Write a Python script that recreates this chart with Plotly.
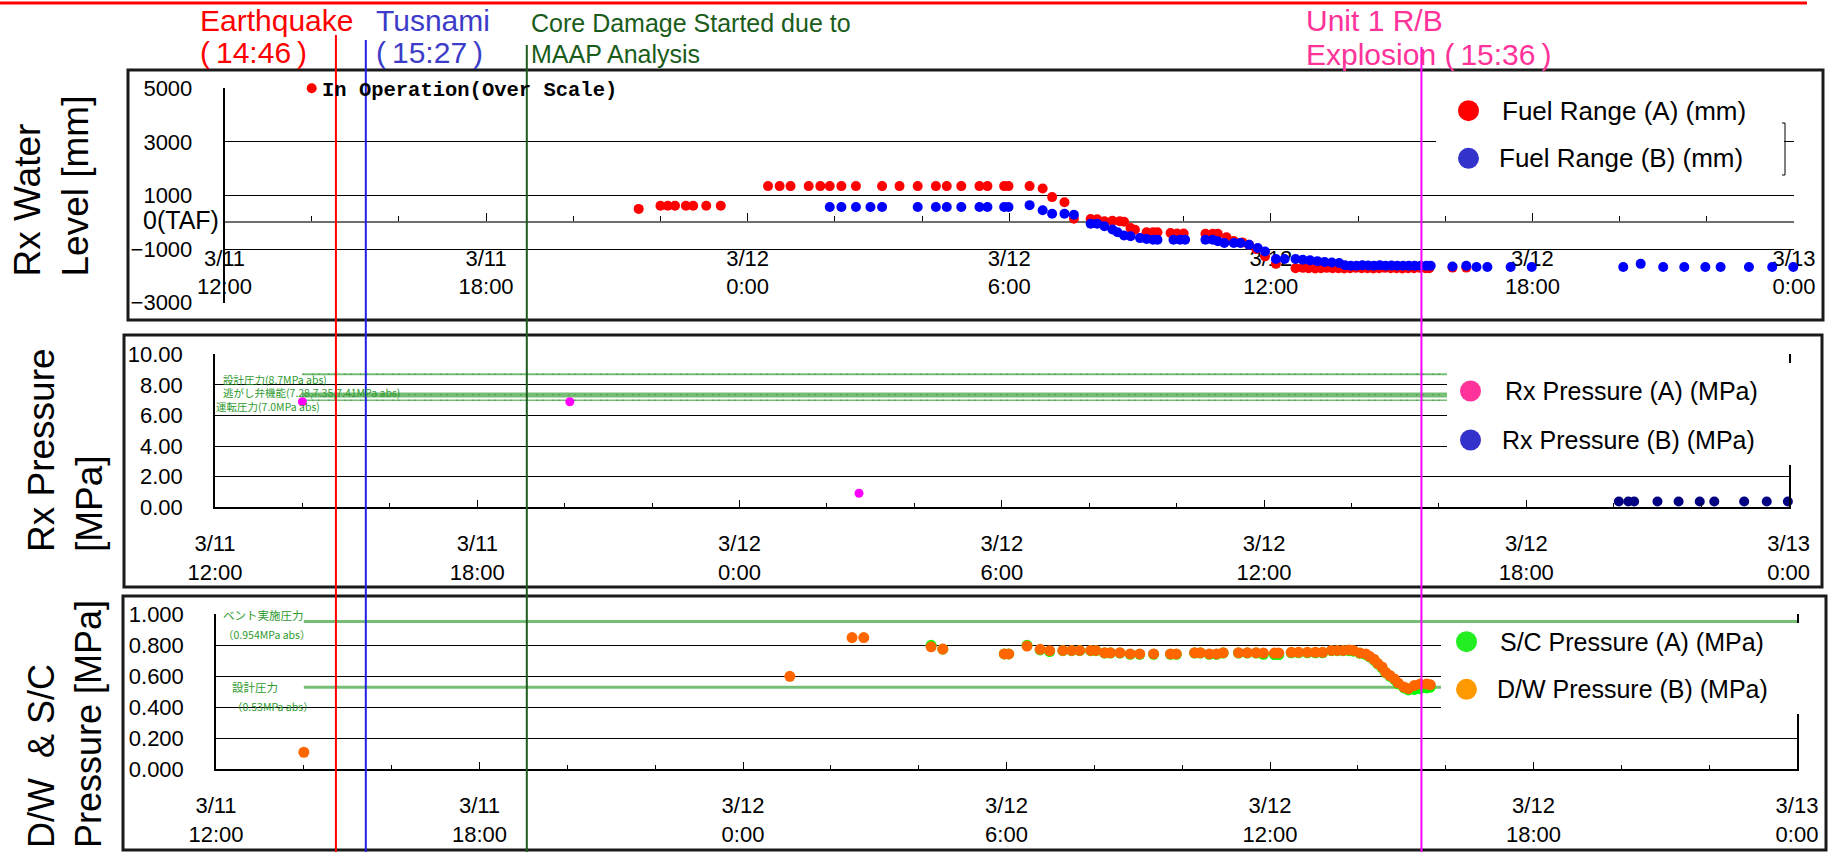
import plotly.graph_objects as go

# Canvas size in pixels; layout positions below are given in pixels and converted.
W, H = 1833, 852


def px(x):
    return x / W


def py(y):
    return 1 - y / H


def stamp(ts):
    """'12 06:28' -> '2011-03-12 06:28'"""
    day, hm = ts.split()
    return f"2011-03-{day} {hm}"


# ---------------------------------------------------------------- time axis
T_START = "2011-03-11 12:00"
T_END = "2011-03-13 00:00"
TICK_TIMES = ["2011-03-11 12:00", "2011-03-11 18:00", "2011-03-12 00:00",
              "2011-03-12 06:00", "2011-03-12 12:00", "2011-03-12 18:00",
              "2011-03-13 00:00"]
TICK_TEXT = ["3/11<br>12:00", "3/11<br>18:00", "3/12<br>0:00", "3/12<br>6:00",
             "3/12<br>12:00", "3/12<br>18:00", "3/13<br>0:00"]

# ---------------------------------------------------------------- events
EVENT_TIME = ["2011-03-11 14:46", "2011-03-11 15:27", "2011-03-11 19:08", "2011-03-12 15:36"]
EVENT_COLOR = ["#FF0000", "#1F1FE6", "#1E5B1E", "#FF00FF"]
EVENT_TOP_PX = [35, 40, 45, 47]

# ---------------------------------------------------------------- reactor water level (fuel range)
FUEL_A_TIME = ["11 14:00", "11 21:30", "11 22:00", "11 22:10", "11 22:20", "11 22:35", "11 22:45",
               "11 23:03", "11 23:23",
               "12 00:28", "12 00:44", "12 00:59", "12 01:24", "12 01:40", "12 01:53", "12 02:09",
               "12 02:29", "12 03:05", "12 03:29", "12 03:54", "12 04:19", "12 04:34", "12 04:54",
               "12 05:19", "12 05:30", "12 05:53", "12 05:59", "12 06:28",
               "12 06:46", "12 06:59", "12 07:16", "12 07:29", "12 07:52", "12 08:01", "12 08:11",
               "12 08:22", "12 08:32", "12 08:38", "12 08:47", "12 08:53", "12 09:09", "12 09:18",
               "12 09:24", "12 09:42", "12 09:51", "12 10:00", "12 10:30", "12 10:40", "12 10:47",
               "12 10:59", "12 11:09", "12 11:21", "12 11:30", "12 11:40", "12 11:52", "12 12:07",
               "12 12:34", "12 12:44", "12 12:52", "12 13:01", "12 13:09", "12 13:17", "12 13:25",
               "12 13:33", "12 13:41", "12 13:49", "12 13:57", "12 14:05", "12 14:13", "12 14:21",
               "12 14:29", "12 14:37", "12 14:45", "12 14:53", "12 15:01", "12 15:09", "12 15:17",
               "12 15:25", "12 15:33", "12 15:38", "12 16:10", "12 16:29"]
FUEL_A_MM = [5000, 500, 620, 620, 620, 620, 620, 620, 620,
             1350, 1350, 1350, 1350, 1350, 1350, 1350, 1350, 1350, 1350, 1350, 1350, 1350, 1350,
             1350, 1350, 1350, 1350, 1350,
             1260, 940, 750, 130, 120, 110, 40, 60, 40, 20, -210, -280, -370, -370,
             -370, -400, -420, -420, -430, -430, -430, -560, -700, -750, -840, -1000, -1270, -1550,
             -1710, -1700, -1710, -1720, -1710, -1700, -1710, -1710, -1720, -1710, -1700, -1710,
             -1710, -1720, -1710, -1700, -1710, -1710, -1720, -1710, -1710, -1700, -1710, -1710,
             -1690, -1690]

FUEL_B_TIME = ["12 01:53", "12 02:09", "12 02:29", "12 02:49", "12 03:05", "12 03:54", "12 04:19",
               "12 04:34", "12 04:54", "12 05:19", "12 05:30", "12 05:53", "12 05:59",
               "12 06:28", "12 06:46", "12 06:59", "12 07:16", "12 07:29", "12 07:52", "12 08:01",
               "12 08:11", "12 08:22", "12 08:29", "12 08:38", "12 08:47", "12 09:00", "12 09:09",
               "12 09:18", "12 09:24", "12 09:46", "12 09:55", "12 10:02", "12 10:30", "12 10:40",
               "12 10:47", "12 10:56", "12 11:09", "12 11:18", "12 11:30", "12 11:42", "12 11:52",
               "12 12:07", "12 12:19", "12 12:34", "12 12:44", "12 12:54", "12 13:04", "12 13:14",
               "12 13:24", "12 13:34", "12 13:42", "12 13:50", "12 13:58", "12 14:06", "12 14:14",
               "12 14:22", "12 14:30", "12 14:38", "12 14:46", "12 14:54", "12 15:02", "12 15:10",
               "12 15:18", "12 15:26", "12 15:34", "12 15:40", "12 16:10", "12 16:29", "12 16:43",
               "12 16:58", "12 17:30", "12 17:59", "12 20:05", "12 20:29", "12 21:00", "12 21:29",
               "12 21:58", "12 22:19", "12 22:58", "12 23:30", "12 23:59"]
FUEL_B_MM = [570, 570, 570, 570, 570, 570, 570, 570, 570, 570, 570, 570, 570,
             640, 450, 320, 320, 280, -50, -50, -150, -270, -370, -490, -520, -590, -620,
             -650, -650, -650, -650, -650, -650, -650, -710, -770, -770, -770, -840, -960, -1090,
             -1370, -1370, -1370, -1400, -1420, -1450, -1480, -1500, -1520, -1600, -1620, -1620,
             -1600, -1610, -1620, -1600, -1620, -1610, -1620, -1620, -1620, -1620, -1620, -1620,
             -1620, -1650, -1620, -1670, -1670, -1670, -1670, -1670, -1550, -1670, -1670, -1670,
             -1670, -1670, -1670, -1670]

# ---------------------------------------------------------------- reactor pressure
RXP_A_TIME = ["11 14:00", "11 20:07", "12 02:44"]
RXP_A_MPA = [6.9, 6.9, 0.92]
RXP_B_TIME = ["12 20:07", "12 20:20", "12 20:28", "12 21:00", "12 21:29", "12 21:58", "12 22:18",
              "12 22:59", "12 23:30", "12 23:59"]
RXP_B_MPA = [0.38, 0.38, 0.38, 0.38, 0.38, 0.38, 0.38, 0.38, 0.38, 0.38]

RX_LIMIT_MPA = [8.7, 7.41, 7.35, 7.28, 7.0]
RX_LIMIT_WIDTH = [2, 3, 3, 3, 1.5]
PCV_LIMIT_MPA = [0.954, 0.53]
LIMIT_START = "2011-03-11 14:00"

# ---------------------------------------------------------------- containment pressure
DW_TIME = ["11 14:00", "12 01:04", "12 02:29", "12 02:45", "12 04:17", "12 04:33", "12 05:57",
           "12 06:03", "12 06:28", "12 06:46", "12 06:59", "12 07:17", "12 07:29", "12 07:40",
           "12 07:55", "12 08:02", "12 08:14", "12 08:22", "12 08:35", "12 08:49", "12 09:02",
           "12 09:21", "12 09:44", "12 09:52", "12 10:17", "12 10:25", "12 10:37", "12 10:47",
           "12 10:56", "12 11:17", "12 11:29", "12 11:41", "12 11:51", "12 12:06", "12 12:12",
           "12 12:29", "12 12:39", "12 12:51", "12 13:02", "12 13:12", "12 13:24", "12 13:32",
           "12 13:40", "12 13:48", "12 13:54", "12 14:03", "12 14:11", "12 14:16", "12 14:22",
           "12 14:27", "12 14:33", "12 14:38", "12 14:44", "12 14:50", "12 14:55", "12 15:03",
           "12 15:09", "12 15:17", "12 15:25", "12 15:34", "12 15:39"]
DW_MPA = [0.11, 0.60, 0.85, 0.85, 0.79, 0.776, 0.744,
          0.744, 0.795, 0.774, 0.765, 0.767, 0.767, 0.767,
          0.767, 0.767, 0.752, 0.752, 0.752, 0.744, 0.744,
          0.744, 0.744, 0.744, 0.752, 0.752, 0.744, 0.744,
          0.752, 0.752, 0.752, 0.752, 0.75, 0.75, 0.75,
          0.755, 0.755, 0.755, 0.755, 0.755, 0.767, 0.767,
          0.767, 0.77, 0.767, 0.75, 0.744, 0.729, 0.71,
          0.684, 0.66, 0.626, 0.605, 0.583, 0.557, 0.531,
          0.52, 0.54, 0.55, 0.55, 0.545]
SC_TIME = DW_TIME[4:]
SC_MPA = [0.80, 0.775, 0.744, 0.744, 0.80, 0.77, 0.76, 0.765, 0.765, 0.765,
          0.765, 0.765, 0.75, 0.75, 0.75, 0.742, 0.742, 0.742, 0.742, 0.742,
          0.75, 0.75, 0.742, 0.742, 0.75, 0.75, 0.75, 0.75, 0.742, 0.74, 0.74,
          0.752, 0.752, 0.752, 0.752, 0.752, 0.765, 0.765, 0.765, 0.765, 0.762,
          0.748, 0.74, 0.725, 0.705, 0.68, 0.655, 0.622, 0.6, 0.578, 0.552,
          0.525, 0.512, 0.515, 0.52, 0.525, 0.53]

# ---------------------------------------------------------------- styling
FONT = "Liberation Sans, Arial, sans-serif"
JP_FONT = "Noto Sans CJK JP, sans-serif"
GREEN_LINE = "rgb(118,190,118)"
GREEN_TEXT = "#2E9A2E"
HOUR_MS = 3600 * 1000

fig = go.Figure()


def dots(times, values, color, size, xa, ya):
    fig.add_trace(go.Scatter(
        x=[stamp(t) for t in times], y=values, mode="markers",
        marker=dict(color=color, size=size, line=dict(width=0)),
        xaxis=xa, yaxis=ya, showlegend=False, cliponaxis=False, hoverinfo="x+y"))


def level_line(value, width, xa, ya, color=GREEN_LINE):
    fig.add_trace(go.Scatter(
        x=[LIMIT_START, T_END], y=[value, value], mode="lines",
        line=dict(color=color, width=width), xaxis=xa, yaxis=ya,
        showlegend=False, hoverinfo="skip"))


# panel 1: water level
dots(FUEL_A_TIME, FUEL_A_MM, "#FF0000", 10, "x", "y")
dots(FUEL_B_TIME, FUEL_B_MM, "#0000FF", 10, "x", "y")

# panel 2: reactor pressure with design / SRV / operating levels
for v, w in zip(RX_LIMIT_MPA, RX_LIMIT_WIDTH):
    level_line(v, w, "x2", "y2")
for v in (RX_LIMIT_MPA[0], RX_LIMIT_MPA[2], RX_LIMIT_MPA[4]):
    fig.add_trace(go.Scatter(
        x=[LIMIT_START, T_END], y=[v, v], mode="lines",
        line=dict(color="rgb(40,120,40)", width=1, dash="1px,9px,1px,5px"),
        xaxis="x2", yaxis="y2", showlegend=False, hoverinfo="skip"))
dots(RXP_A_TIME, RXP_A_MPA, "#FF00FF", 9, "x2", "y2")
dots(RXP_B_TIME, RXP_B_MPA, "#000080", 10, "x2", "y2")

# panel 3: D/W and S/C pressure with vent / design levels
for v in PCV_LIMIT_MPA:
    level_line(v, 3, "x3", "y3")
dots(SC_TIME, SC_MPA, "#00FF00", 11, "x3", "y3")
dots(DW_TIME, DW_MPA, "#FF6600", 11, "x3", "y3")

# ---------------------------------------------------------------- axes
tickfont = dict(family=FONT, size=22, color="#000")


def time_axis(dom, **kw):
    ax = dict(
        type="date", domain=dom, range=[T_START, T_END], automargin=False,
        tickmode="array", tickvals=TICK_TIMES, ticktext=TICK_TEXT,
        ticks="inside", ticklen=8, tickwidth=1.3, tickcolor="#000",
        minor=dict(tickmode="linear", tick0=T_START, dtick=2 * HOUR_MS, ticks="inside",
                   ticklen=5, tickwidth=1, tickcolor="#000", showgrid=False),
        showgrid=False, zeroline=False, showline=True, linecolor="#000", linewidth=1.5,
        tickfont=tickfont, ticklabelstandoff=16, fixedrange=True)
    ax.update(kw)
    return ax


def value_axis(dom, rng, vals, text, **kw):
    ax = dict(
        domain=dom, range=rng, automargin=False,
        tickmode="array", tickvals=vals, ticktext=text,
        showgrid=True, gridcolor="#000", gridwidth=1, zeroline=False,
        showline=True, linecolor="#000", linewidth=1.5, ticks="",
        tickfont=tickfont, ticklabelstandoff=26, fixedrange=True)
    ax.update(kw)
    return ax


Y1_DOM = [py(302.7), py(88.3)]
Y1_RANGE = [-3000, 5000]
zero_pos = Y1_DOM[0] + (0 - Y1_RANGE[0]) / (Y1_RANGE[1] - Y1_RANGE[0]) * (Y1_DOM[1] - Y1_DOM[0])

LEVEL_TICKS = [-3000, -1000, 1000, 3000, 5000]
LEVEL_TEXT = ["\u22123000", "\u22121000", "1000", "3000", "5000"]
RXP_TICKS = [0, 2, 4, 6, 8, 10]
RXP_TEXT = ["0.00", "2.00", "4.00", "6.00", "8.00", "10.00"]
PCV_TICKS = [0, 0.2, 0.4, 0.6, 0.8, 1.0]
PCV_TEXT = ["0.000", "0.200", "0.400", "0.600", "0.800", "1.000"]

fig.update_layout(
    xaxis=time_axis([px(224.5), px(1794)], anchor="free", position=zero_pos,
                    linecolor="#6E6E6E", linewidth=2, layer="below traces"),
    yaxis=value_axis(Y1_DOM, Y1_RANGE, LEVEL_TICKS, LEVEL_TEXT, anchor="x"),
    xaxis2=time_axis([px(215), px(1788.6)], anchor="y2"),
    yaxis2=value_axis([py(507.3), py(354.3)], [0, 10], RXP_TICKS, RXP_TEXT,
                      anchor="x2", mirror=True),
    xaxis3=time_axis([px(216), px(1797)], anchor="y3"),
    yaxis3=value_axis([py(769.3), py(614.3)], [0, 1], PCV_TICKS, PCV_TEXT,
                      anchor="x3", mirror=True),
)

# ---------------------------------------------------------------- shapes
shapes = []


def rect(x0, y0, x1, y1, line_color=None, line_width=0, fill="rgba(0,0,0,0)"):
    shapes.append(dict(type="rect", xref="paper", yref="paper",
                       x0=px(x0), x1=px(x1), y0=py(y1), y1=py(y0),
                       line=dict(color=line_color or "rgba(0,0,0,0)", width=line_width),
                       fillcolor=fill, layer="above"))


def seg(x0, y0, x1, y1, color, width):
    shapes.append(dict(type="line", xref="paper", yref="paper",
                       x0=px(x0), x1=px(x1), y0=py(y0), y1=py(y1),
                       line=dict(color=color, width=width), layer="above"))


def dot(cx, cy, color, d=21):
    shapes.append(dict(type="circle", xref="paper", yref="paper",
                       x0=px(cx - d / 2), x1=px(cx + d / 2), y0=py(cy + d / 2), y1=py(cy - d / 2),
                       line=dict(width=0), fillcolor=color, layer="above"))


# panel frames
rect(128, 70, 1823, 320, "#1A1A1A", 3)
rect(124, 335, 1822, 587, "#1A1A1A", 3)
rect(123, 596, 1826, 850, "#1A1A1A", 3)

# legend backgrounds
rect(1436, 86, 1784, 192, fill="#FFFFFF")
rect(1447, 363, 1795, 465, fill="#FFFFFF")
rect(1441, 623, 1800, 714, fill="#FFFFFF")
seg(1785, 123, 1785, 175, "#000", 1)
seg(1782, 123, 1785, 123, "#000", 1)
seg(1782, 175, 1785, 175, "#000", 1)

# legend swatches: centre x, centre y, colour, label x, label, label size
LEGENDS = [
    (1468.5, 110.7, "#FF0000", 1501, "Fuel Range (A) (mm)", 26),
    (1468.5, 158.3, "#3333CC", 1498, "Fuel Range (B) (mm)", 26),
    (1470.5, 391.0, "#FF3399", 1503.6, "Rx Pressure (A) (MPa)", 25),
    (1470.5, 440.0, "#3333CC", 1500.8, "Rx Pressure (B) (MPa)", 25),
    (1466.5, 641.7, "#22EE22", 1498.7, "S/C Pressure (A) (MPa)", 25),
    (1466.5, 689.3, "#FF9900", 1496, "D/W Pressure (B) (MPa)", 25),
]
for cx, cy, col, _, _, _ in LEGENDS:
    dot(cx, cy, col)

# top rule
seg(0, 3, 1807, 3, "#FF0000", 3)

# event markers across all panels
for t, col, top in zip(EVENT_TIME, EVENT_COLOR, EVENT_TOP_PX):
    shapes.append(dict(type="line", xref="x2", yref="paper", x0=t, x1=t,
                       y0=0, y1=py(top), line=dict(color=col, width=2), layer="above"))

# ---------------------------------------------------------------- annotations
ann = []


def text(x, y, s, size, color="#000", family=FONT, xanchor="left", yanchor="middle", **kw):
    d = dict(xref="paper", yref="paper", x=px(x), y=py(y), text=s, showarrow=False,
             xanchor=xanchor, yanchor=yanchor, font=dict(family=family, size=size, color=color),
             borderpad=0)
    d.update(kw)
    ann.append(d)


# event captions
text(199, 21, "Earthquake", 30, "#FF0000")
text(199, 53, "(\u200914:46\u2009)", 30, "#FF0000")
text(375, 21, "Tusnami", 30, "#3C3CC8")
text(375, 53, "(\u200915:27\u2009)", 30, "#3C3CC8")
text(530, 23, "Core Damage Started due to", 25, "#1A5C1A")
text(530, 54, "MAAP Analysis", 25, "#1A5C1A")
text(1305, 20, "Unit 1 R/B", 30, "#FF3399")
text(1305, 54, "Explosion (\u200915:36\u2009)", 30, "#FF3399")

# panel titles (rotated)
text(51, 278, "Rx Water<br>Level [mm]", 37, xanchor="center", yanchor="bottom",
     textangle=-90, align="left")
text(65, 553, "Rx Pressure<br>[MPa]", 37, xanchor="center", yanchor="bottom",
     textangle=-90, align="left")
text(65, 849, "D/W\u00a0\u00a0& S/C<br>Pressure [MPa]", 36, xanchor="center", yanchor="bottom",
     textangle=-90, align="left")

# level-panel notes
text(321, 90.7, "<b>In Operation(Over Scale)</b>", 20.5,
     family="Liberation Mono, DejaVu Sans Mono, monospace")
text(220, 220, "0(TAF)", 25, xanchor="right")

# reference levels
text(222, 379, "設計圧力(8.7MPa abs)", 10.5, GREEN_TEXT, JP_FONT)
text(222, 393, "逃がし弁機能(7.28,7.35,7.41MPa abs)", 10.5, GREEN_TEXT, JP_FONT)
text(215, 406, "運転圧力(7.0MPa abs)", 10.5, GREEN_TEXT, JP_FONT)
text(222, 615, "ベント実施圧力", 11.5, GREEN_TEXT, JP_FONT)
text(222, 634, "（0.954MPa abs）", 10.5, GREEN_TEXT, JP_FONT)
text(231, 687, "設計圧力", 11.5, GREEN_TEXT, JP_FONT)
text(231, 706, "（0.53MPa abs）", 10.5, GREEN_TEXT, JP_FONT)

# legend labels
for _, cy, _, tx, label, size in LEGENDS:
    text(tx, cy, label, size)

fig.update_layout(
    width=W, height=H, autosize=False,
    margin=dict(l=0, r=0, t=0, b=0, pad=0, autoexpand=False),
    paper_bgcolor="#FFFFFF", plot_bgcolor="#FFFFFF",
    showlegend=False, shapes=shapes, annotations=ann,
    font=dict(family=FONT, color="#000"),
)

fig.write_html("out.html")
